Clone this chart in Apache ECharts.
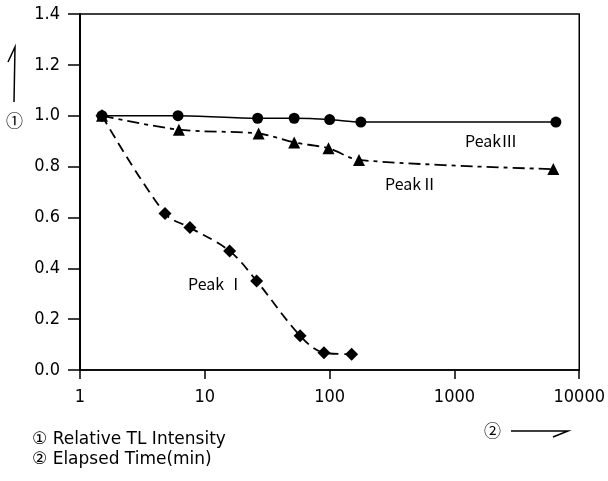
<!DOCTYPE html>
<html>
<head>
<meta charset="utf-8">
<script src="https://cdn.jsdelivr.net/npm/echarts@6/dist/echarts.min.js"></script>
<style>
  html, body { margin: 0; padding: 0; background: #fff; }
  #chart { width: 608px; height: 481px; }
</style>
</head>
<body>
<div id="chart"></div>
<script>
// elapsed time (min) and relative TL intensity
const timeI = [1.5, 4.8, 7.6, 15.8, 26, 58, 90, 150];
const peakI = [1.0, 0.615, 0.56, 0.468, 0.35, 0.135, 0.068, 0.062];

const timeII = [1.5, 6.2, 27, 52, 98, 172, 6200];
const peakII = [1.0, 0.945, 0.93, 0.895, 0.872, 0.826, 0.79];

const timeIII = [1.5, 6.1, 26.5, 52, 100, 178, 6500];
const peakIII = [1.0, 1.0, 0.99, 0.99, 0.985, 0.975, 0.975];

const xTicks = [1, 10, 100, 1000, 10000];
const yTicks = [0, 0.2, 0.4, 0.6, 0.8, 1.0, 1.2, 1.4];

const pairs = (xs, ys) => xs.map((x, i) => [x, ys[i]]);

const tickFont = "'Liberation Sans Narrow', 'DejaVu Sans Condensed', 'Noto Sans CJK KR', sans-serif";
const textFont = "'Noto Sans CJK KR', sans-serif";
const keyFont = "'DejaVu Sans', 'Noto Sans CJK KR', sans-serif";

const myChart = echarts.init(document.getElementById('chart'));
let option;

option = {
  animation: false,
  backgroundColor: '#fff',
  grid: {
    left: 80,
    right: 17,
    top: 14,
    bottom: 111,
    show: true,
    borderColor: '#000',
    borderWidth: 1.5
  },
  xAxis: {
    type: 'log',
    logBase: 10,
    min: 1,
    max: 10000,
    axisLine: { lineStyle: { color: '#000', width: 1.5 } },
    axisTick: { inside: false, length: 9, lineStyle: { color: '#000', width: 1.5 } },
    minorTick: { show: false },
    splitLine: { show: false },
    axisLabel: {
      margin: 18,
      color: '#000',
      fontSize: 18,
      fontFamily: tickFont,
      formatter: (v) => (xTicks.includes(Math.round(v)) ? String(Math.round(v)) : '')
    }
  },
  yAxis: {
    type: 'value',
    min: 0,
    max: 1.4,
    interval: 0.2,
    axisLine: { show: true, lineStyle: { color: '#000', width: 2 } },
    axisTick: { show: true, inside: false, length: 12, lineStyle: { color: '#000', width: 1.5 } },
    splitLine: { show: false },
    axisLabel: {
      margin: 20,
      color: '#000',
      fontSize: 18,
      fontFamily: tickFont,
      formatter: (v) => (yTicks.some(t => Math.abs(t - v) < 1e-6) ? v.toFixed(1) : '')
    }
  },
  series: [
    {
      name: 'Peak III',
      type: 'line',
      smooth: 0.3,
      data: pairs(timeIII, peakIII),
      symbol: 'circle',
      symbolSize: 11,
      itemStyle: { color: '#000' },
      lineStyle: { color: '#000', width: 1.5, type: 'solid' },
      z: 3
    },
    {
      name: 'Peak II',
      type: 'line',
      smooth: 0.3,
      data: pairs(timeII, peakII),
      symbol: 'triangle',
      symbolSize: 12,
      itemStyle: { color: '#000' },
      lineStyle: { color: '#000', width: 1.8, type: [12, 5, 4, 5] },
      z: 4
    },
    {
      name: 'Peak I',
      type: 'line',
      smooth: 0.35,
      data: pairs(timeI, peakI),
      symbol: 'diamond',
      symbolSize: 13,
      itemStyle: { color: '#000' },
      lineStyle: { color: '#000', width: 1.8, type: [10, 6] },
      z: 5
    }
  ],
  graphic: [
    // series labels
    { type: 'text', left: 188, top: 276, style: { text: 'Peak Ⅰ', font: '16px ' + textFont, fill: '#000' } },
    { type: 'text', left: 385, top: 176, style: { text: 'PeakⅡ', font: '16px ' + textFont, fill: '#000' } },
    { type: 'text', left: 465, top: 133, style: { text: 'PeakⅢ', font: '16px ' + textFont, fill: '#000' } },
    // y-axis marker
    { type: 'polyline', shape: { points: [[14, 102], [15, 47], [8, 62]] }, style: { stroke: '#000', lineWidth: 1.5, fill: null } },
    { type: 'text', left: 6, top: 112, style: { text: '①', font: '17px ' + textFont, fill: '#000' } },
    // x-axis marker
    { type: 'text', left: 484, top: 422, style: { text: '②', font: '17px ' + textFont, fill: '#000' } },
    { type: 'polyline', shape: { points: [[511, 431], [568, 431], [553, 437]] }, style: { stroke: '#000', lineWidth: 1.5, fill: null } },
    // key
    { type: 'text', left: 32, top: 431, style: { text: '① Relative TL Intensity', font: '17px ' + keyFont, fill: '#000' } },
    { type: 'text', left: 32, top: 451, style: { text: '② Elapsed Time(min)', font: '17px ' + keyFont, fill: '#000' } }
  ]
};

option && myChart.setOption(option);
</script>
</body>
</html>
